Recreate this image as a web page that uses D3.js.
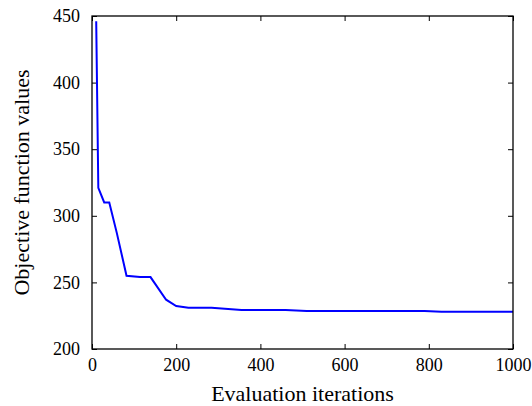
<!DOCTYPE html>
<html>
<head>
<meta charset="utf-8">
<script src="https://cdn.jsdelivr.net/npm/d3@7"></script>
<style>
body { margin: 0; background: #fff; }
</style>
</head>
<body>
<svg id="chart" width="532" height="406"></svg>
<script>
// evaluation iteration vs objective value
const iters = [10, 15, 29, 41, 59, 82, 114, 139, 176, 200, 229, 284, 355, 460, 510, 790, 830, 1000];
const objVals = [446, 321, 310, 310, 287, 255, 254, 254, 237, 232.3, 231, 231, 229.3, 229.2, 228.6, 228.6, 228, 228];
const xTicks = [0, 200, 400, 600, 800, 1000];
const yTicks = [200, 250, 300, 350, 400, 450];

const serif = "Liberation Serif";

var svg = d3.select("#chart");
const m = {left: 92, top: 16, right: 513, bottom: 349};

var x = d3.scaleLinear().domain([0, 1000]).range([m.left, m.right]);
var y = d3.scaleLinear().domain([200, 450]).range([m.bottom, m.top]);

const tl = 5;
// inward ticks on all four sides
svg.append("g").attr("transform", `translate(0,${m.bottom})`)
	.call(d3.axisBottom(x).tickValues(xTicks).tickFormat(d3.format("d")).tickSizeInner(-tl).tickSizeOuter(0).tickPadding(9))
	.call(g => g.select(".domain").remove());
svg.append("g").attr("transform", `translate(0,${m.top})`)
	.call(d3.axisTop(x).tickValues(xTicks).tickSizeInner(-tl).tickSizeOuter(0).tickFormat(""))
	.call(g => g.select(".domain").remove());
svg.append("g").attr("transform", `translate(${m.left},0)`)
	.call(d3.axisLeft(y).tickValues(yTicks).tickSizeInner(-tl).tickSizeOuter(0).tickPadding(12))
	.call(g => g.select(".domain").remove());
svg.append("g").attr("transform", `translate(${m.right},0)`)
	.call(d3.axisRight(y).tickValues(yTicks).tickSizeInner(-tl).tickSizeOuter(0).tickFormat(""))
	.call(g => g.select(".domain").remove());

svg.selectAll("g").attr("font-family", serif).attr("font-size", 18);
svg.selectAll(".tick line").attr("stroke", "#000").attr("stroke-width", 1);
svg.selectAll(".tick text").attr("fill", "#000");

const line = d3.line().x((d, i) => x(iters[i])).y(d => y(d));
svg.append("path")
	.datum(objVals)
	.attr("d", line)
	.attr("fill", "none")
	.attr("stroke", "#0000ff")
	.attr("stroke-width", 2);

svg.append("rect")
	.attr("x", m.left).attr("y", m.top)
	.attr("width", m.right - m.left).attr("height", m.bottom - m.top)
	.attr("fill", "none").attr("stroke", "#000").attr("stroke-width", 1.3);

svg.append("text")
	.attr("x", (m.left + m.right) / 2).attr("y", 401)
	.attr("text-anchor", "middle")
	.attr("font-family", serif)
	.attr("font-size", 22)
	.text("Evaluation iterations");

svg.append("text")
	.attr("transform", `translate(29,${(m.top + m.bottom) / 2}) rotate(-90)`)
	.attr("text-anchor", "middle")
	.attr("font-family", serif)
	.attr("font-size", 22)
	.text("Objective function values");
</script>
</body>
</html>
